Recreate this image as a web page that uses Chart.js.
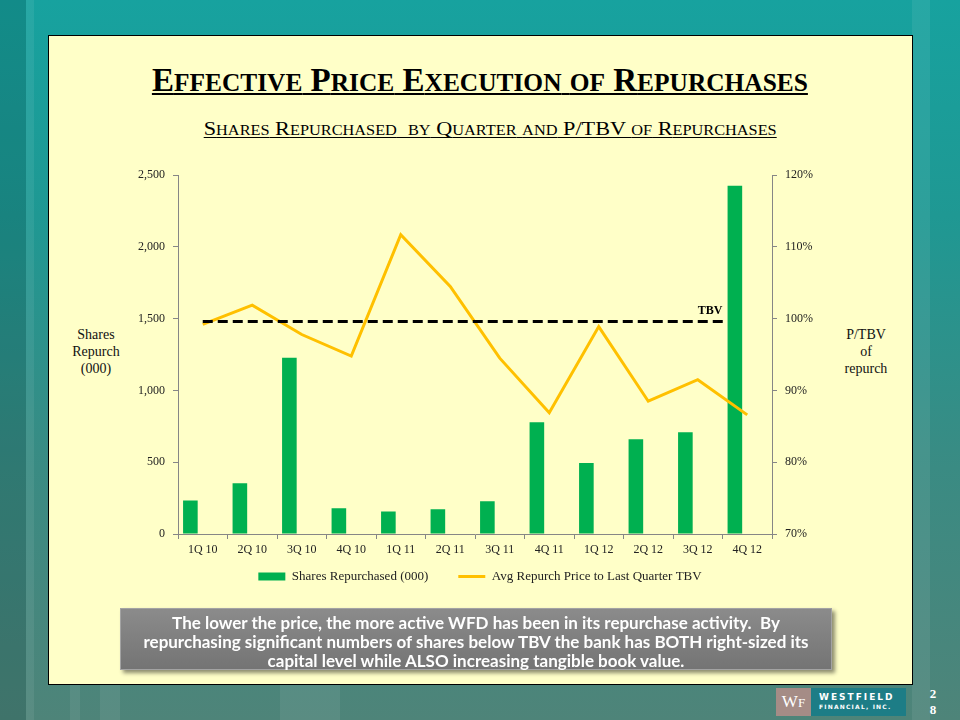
<!DOCTYPE html>
<html>
<head>
<meta charset="utf-8">
<script src="https://cdn.jsdelivr.net/npm/chart.js@4.4.1/dist/chart.umd.min.js"></script>
<style>
  html, body { margin: 0; padding: 0; }
  body { width: 960px; height: 720px; position: relative; overflow: hidden;
    background: linear-gradient(180deg, #17a29f 0%, #1f9893 30%, #3a8b83 65%, #4e8479 100%); }
  .streak { position: absolute; background: rgba(255,255,255,0.07); }
  .dark { position: absolute; background: rgba(0,40,40,0.18); }
  #panel { position: absolute; left: 48px; top: 35px; width: 863px; height: 648px;
    background: #ffffc8; border: 1px solid #000; }
  .ttl { position: absolute; left: 0; width: 960px; text-align: center; color: #000;
    font-family: "Liberation Serif", "Times New Roman", serif; white-space: pre; }
  .ttl > span { display: inline-block; text-decoration: underline; text-decoration-skip-ink: none; }
  #title { top: 64px; font-weight: bold; font-size: 33px; line-height: 33px; }
  #title > span { text-decoration-thickness: 2px; text-underline-offset: 2px; }
  #title .s { font-size: 25.4px; }
  #subtitle { left: 10px; top: 119px; font-size: 19.5px; line-height: 20px; }
  #subtitle > span { text-decoration-thickness: 1px; text-underline-offset: 2px; }
  #subtitle .s { font-size: 14.3px; }
  #chartBox { position: absolute; left: 110px; top: 160px; width: 740px; height: 450px; }
  .axTitle { position: absolute; font-family: "Liberation Serif", serif; font-size: 14px; line-height: 17px;
    color: #111; text-align: center; width: 80px; }
  #note { position: absolute; left: 120px; top: 608px; width: 712px; height: 62px;
    background: linear-gradient(180deg, #8b8b8b, #747474); border: 1px solid #a3a3a3;
    box-shadow: 3px 3px 4px rgba(0,0,0,0.45);
    font-family: Lato, "Open Sans", sans-serif; font-weight: bold; font-size: 17px; line-height: 19px;
    color: #fff; text-align: center; padding-top: 4px; box-sizing: border-box; }
  #logo { position: absolute; left: 776px; top: 688px; width: 130px; height: 28px; }
  #logoL { position: absolute; left: 0; top: 0; width: 35px; height: 28px; background: #a58c86;
    color: #fff; font-family: "Liberation Serif", serif; font-size: 17px; line-height: 28px; text-align: center; }
  #logoR { position: absolute; left: 35px; top: 0; width: 95px; height: 28px; background: #1d7d86; color: #fff;
    font-family: "DejaVu Sans", sans-serif; font-weight: bold; }
  #pg { position: absolute; left: 928px; top: 686px; width: 10px; font-family: "Liberation Serif", serif;
    font-weight: bold; font-size: 13px; line-height: 16px; color: #fff; text-align: center; }
</style>
</head>
<body>
<div class="dark" style="left:0;top:0;width:26px;height:720px;"></div>
<div class="streak" style="left:26px;top:0;width:8px;height:720px;"></div>
<div class="streak" style="left:912px;top:0;width:18px;height:720px;"></div>
<div class="streak" style="left:70px;top:685px;width:10px;height:35px;"></div>
<div class="streak" style="left:100px;top:685px;width:20px;height:35px;"></div>
<div class="streak" style="left:280px;top:685px;width:60px;height:35px;"></div>
<div id="panel"></div>
<div id="title" class="ttl"><span>E<span class="s">FFECTIVE</span> P<span class="s">RICE</span> E<span class="s">XECUTION</span> <span class="s">OF</span> R<span class="s">EPURCHASES</span></span></div>
<div id="subtitle" class="ttl"><span>S<span class="s">HARES</span> R<span class="s">EPURCHASED</span>  <span class="s">BY</span> Q<span class="s">UARTER</span> <span class="s">AND</span> P/TBV <span class="s">OF</span> R<span class="s">EPURCHASES</span></span></div>
<div class="axTitle" style="left:56px;top:326px;">Shares<br>Repurch<br>(000)</div>
<div class="axTitle" style="left:826px;top:326px;">P/TBV<br>of<br>repurch</div>
<div id="chartBox"><canvas id="c"></canvas></div>
<div id="note">The lower the price, the more active WFD has been in its repurchase activity.&nbsp; By<br>repurchasing significant numbers of shares below TBV the bank has BOTH right-sized its<br>capital level while ALSO increasing tangible book value.</div>
<div id="logo"><div id="logoL">W<span style="font-size:13px">F</span></div>
  <div id="logoR"><div style="position:absolute;left:8px;top:4px;font-size:9px;letter-spacing:2px;">WESTFIELD</div>
  <div style="position:absolute;left:8px;top:15px;font-size:6px;letter-spacing:1.2px;">FINANCIAL, INC.</div></div></div>
<div id="pg">2<br>8</div>
<script>
// ---- data ----
const quarters = ["1Q 10","2Q 10","3Q 10","4Q 10","1Q 11","2Q 11","3Q 11","4Q 11","1Q 12","2Q 12","3Q 12","4Q 12"];
const sharesRepurchased = [234, 353, 1228, 179, 157, 173, 228, 779, 494, 661, 709, 2427];
const priceToTbv = [99.2, 101.9, 97.8, 94.8, 111.7, 104.5, 94.5, 86.9, 98.9, 88.5, 91.5, 86.6];
const tbvLevel = 99.6;
const tbvSpan = [0, 10.6];
const sharesTicks = [0, 500, 1000, 1500, 2000, 2500];
const pctTicks = [70, 80, 90, 100, 110, 120];
const seriesNames = ["Shares Repurchased (000)", "Avg Repurch Price to Last Quarter TBV"];

// fit the small-caps titles to the reference widths
[["title", 656], ["subtitle", 573]].forEach(([id, w]) => {
  const sp = document.querySelector('#' + id + ' > span');
  const cur = sp.getBoundingClientRect().width;
  sp.style.transform = 'scaleX(' + (w / cur) + ')';
});

const serif = "'Liberation Serif', 'Times New Roman', serif";

const tbvLabelPlugin = {
  id: 'tbvLabel',
  afterDatasetsDraw(chart) {
    const xs = chart.scales.xT, ys = chart.scales.yR;
    const ctx = chart.ctx;
    ctx.save();
    ctx.font = "bold 12px " + serif;
    ctx.fillStyle = "#000";
    ctx.textAlign = "right";
    ctx.textBaseline = "alphabetic";
    ctx.fillText("TBV", xs.getPixelForValue(tbvSpan[1]) - 5, ys.getPixelForValue(tbvLevel) - 8);
    ctx.restore();
  }
};

// pull the legend up closer to the axis labels (keeps wide item spacing)
const legendShiftPlugin = {
  id: 'legendShift',
  afterLayout(chart) {
    const lg = chart.legend;
    if (lg) { lg.top -= 17; lg.bottom -= 17; }
  }
};

new Chart(document.getElementById('c'), {
  data: {
    labels: quarters,
    datasets: [
      { type: 'line', label: seriesNames[1], data: priceToTbv, yAxisID: 'yR', xAxisID: 'x',
        borderColor: '#ffc000', backgroundColor: '#ffc000', borderWidth: 3, pointRadius: 0,
        tension: 0, order: 1 },
      { type: 'line', label: 'TBV', xAxisID: 'xT', yAxisID: 'yR',
        data: tbvSpan.map(v => ({ x: v, y: tbvLevel })),
        borderColor: '#000', borderWidth: 3, borderDash: [10, 5], pointRadius: 0, order: 0 },
      { type: 'bar', label: seriesNames[0], data: sharesRepurchased, yAxisID: 'yL', xAxisID: 'x',
        backgroundColor: '#00b050', borderWidth: 0, barPercentage: 0.59, categoryPercentage: 1, order: 2 }
    ]
  },
  options: {
    responsive: true, maintainAspectRatio: false, animation: false,
    layout: { padding: { top: 14, left: 0, right: 0, bottom: 0 } },
    plugins: {
      tooltip: { enabled: false },
      legend: {
        position: 'bottom',
        reverse: true,
        labels: {
          filter: (item) => item.text !== 'TBV',
          usePointStyle: true, pointStyleWidth: 27, boxHeight: 8, padding: 30,
          color: '#222', font: { family: serif, size: 13 },
          generateLabels(chart) {
            const items = Chart.defaults.plugins.legend.labels.generateLabels(chart);
            items.forEach(it => {
              const ds = chart.data.datasets[it.datasetIndex];
              if (ds.type === 'bar') { it.pointStyle = 'rect'; it.fillStyle = '#00b050'; it.strokeStyle = '#00b050'; it.lineWidth = 0; }
              else { it.pointStyle = 'line'; it.strokeStyle = '#ffc000'; it.lineWidth = 3; }
            });
            return items;
          }
        }
      }
    },
    scales: {
      x: {
        type: 'category', offset: true,
        grid: { display: true, drawOnChartArea: false, offset: true, tickLength: 5, color: '#868686' },
        border: { color: '#868686', width: 1 },
        ticks: { color: '#222', font: { family: serif, size: 12 }, padding: 4, maxRotation: 0, autoSkip: false },
        afterFit(s) { s.height = 23; }
      },
      xT: { type: 'linear', display: false, min: -0.5, max: 11.5 },
      yL: {
        position: 'left', min: 0, max: 2500,
        afterBuildTicks(s) { s.ticks = sharesTicks.map(v => ({ value: v })); },
        grid: { display: true, drawOnChartArea: false, tickLength: 5, color: '#868686' },
        border: { color: '#868686', width: 1 },
        ticks: { color: '#222', font: { family: serif, size: 12 }, padding: 8,
          callback: v => v.toLocaleString('en-US') },
        afterFit(s) { s.width = 68; }
      },
      yR: {
        position: 'right', min: 70, max: 120,
        afterBuildTicks(s) { s.ticks = pctTicks.map(v => ({ value: v })); },
        grid: { display: true, drawOnChartArea: false, tickLength: 5, color: '#868686' },
        border: { color: '#868686', width: 1 },
        ticks: { color: '#222', font: { family: serif, size: 12 }, padding: 8, callback: v => v + '%' },
        afterFit(s) { s.width = 78; }
      }
    }
  },
  plugins: [tbvLabelPlugin, legendShiftPlugin]
});
</script>
</body>
</html>
